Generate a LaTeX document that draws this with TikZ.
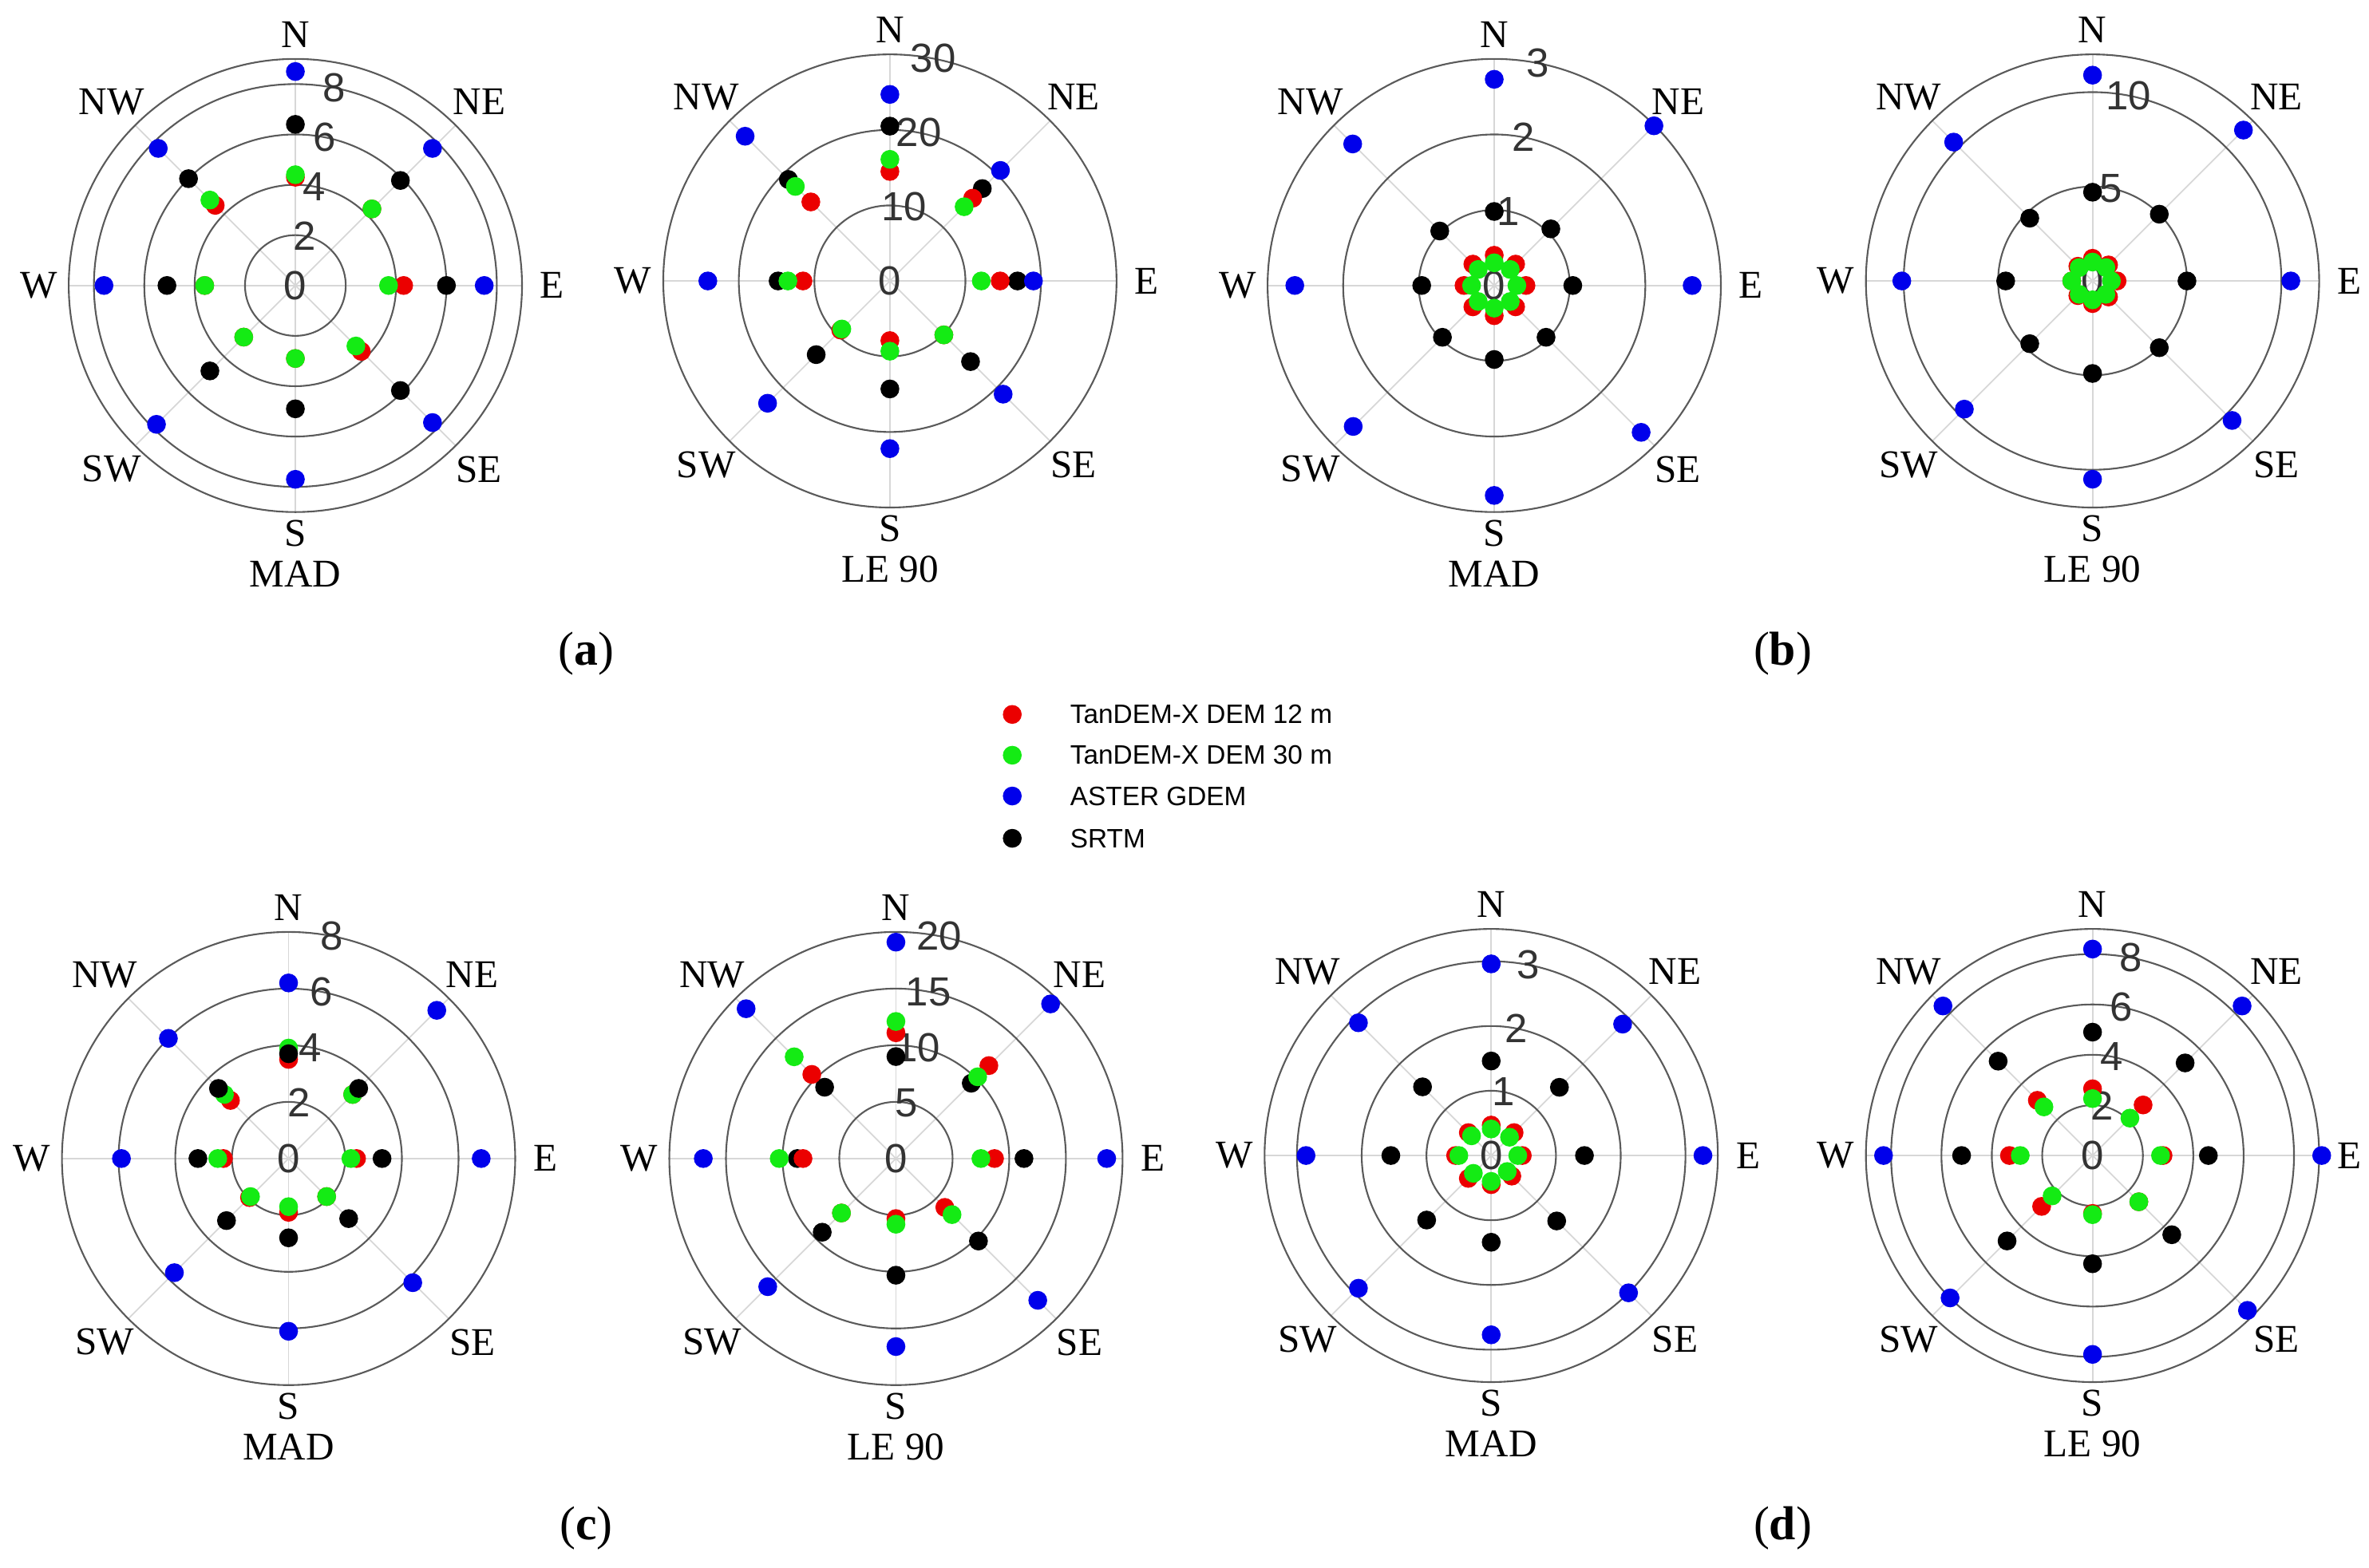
\documentclass[tikz,border=0pt]{standalone}
\usepackage{fontspec}
\setmainfont{Liberation Serif}
\newfontfamily\sansf{Liberation Sans}
\definecolor{cR}{RGB}{235,0,0}
\definecolor{cG}{RGB}{20,235,20}
\definecolor{cB}{RGB}{0,0,235}
\definecolor{cK}{RGB}{0,0,0}
\definecolor{grid}{RGB}{215,215,215}
\definecolor{ring}{RGB}{90,90,90}
\newcommand\ppolar[6]{% cx, cy, unit, rings, labels, subtitle
  \begin{scope}[shift={(#1,-#2)},x=#3*0.018929cm,y=#3*0.018929cm]
    \def\outer{150/#3}
    \foreach \a in {0,45,...,315} \draw[grid,line width=0.5pt] (0,0) -- (\a:\outer);
    \foreach \r in {#4} \draw[ring,line width=0.6pt] (0,0) circle[radius=\r];
    \node[val] at (0,0) {0};
    \foreach \l in {#5} \node[val] at (79:\l) {\l};
    \foreach \t/\a/\d in {N/90/166,NE/45/172,E/0/170,SE/-45/172,S/-90/164,SW/-135/172,W/180/170,NW/135/172}
      \node[dir] at (\a:{\d/#3}) {\t};
    \node[dir] at (-90:{191/#3}) {#6};
  \end{scope}}
\newcommand\pdots[5]{% cx, cy, unit, colour, values N..NW
  \begin{scope}[shift={(#1,-#2)},x=#3*0.018929cm,y=#3*0.018929cm]
    \foreach \v [count=\i] in {#5} \fill[#4] ({90-45*(\i-1)}:\v) circle[radius=0.118cm];
  \end{scope}}
\tikzset{val/.style={font=\sansf\fontsize{14.5}{14.5}\selectfont,text=black!80,inner sep=0pt},
  dir/.style={font=\fontsize{14}{14}\selectfont,inner sep=0pt},
  lab/.style={font=\fontsize{17}{17}\selectfont,inner sep=0pt},
  leg/.style={font=\sansf\fontsize{9.5}{9.5}\selectfont,anchor=west,inner sep=0pt}}
\begin{document}
\begin{tikzpicture}[x=0.018929cm,y=0.018929cm]
\useasboundingbox (0,0) rectangle (1568,-1038);
% ---- (a) MAD
\ppolar{195.5}{189}{16.667}{2,4,6,8,9}{2,4,6,8}{MAD}
\pdots{195.5}{189}{16.667}{cK}{6.4,5.9,6.0,5.9,4.9,4.8,5.1,6.0}
\pdots{195.5}{189}{16.667}{cB}{8.5,7.7,7.5,7.7,7.7,7.8,7.6,7.7}
\pdots{195.5}{189}{16.667}{cR}{4.3,4.3,4.3,3.7,2.9,2.9,3.6,4.5}
\pdots{195.5}{189}{16.667}{cG}{4.4,4.3,3.7,3.4,2.9,2.9,3.6,4.8}
% ---- (a) LE90
\ppolar{589}{186}{5}{10,20,30}{10,20,30}{LE 90}
\pdots{589}{186}{5}{cK}{20.5,17.3,16.9,15.1,14.3,13.8,14.8,19.0}
\pdots{589}{186}{5}{cB}{24.7,20.7,19.0,21.2,22.2,22.9,24.1,27.1}
\pdots{589}{186}{5}{cR}{14.5,15.5,14.6,10.1,7.9,9.2,11.5,14.8}
\pdots{589}{186}{5}{cG}{16.1,13.9,12.1,10.1,9.3,9.0,13.5,17.7}
% ---- (b) MAD
\ppolar{989}{189}{50}{1,2,3}{1,2,3}{MAD}
\pdots{989}{189}{50}{cK}{0.98,1.06,1.04,0.97,0.98,0.97,0.96,1.02}
\pdots{989}{189}{50}{cB}{2.73,2.99,2.62,2.75,2.78,2.64,2.64,2.65}
\pdots{989}{189}{50}{cR}{0.4,0.4,0.42,0.4,0.4,0.4,0.4,0.4}
\pdots{989}{189}{50}{cG}{0.3,0.3,0.3,0.3,0.3,0.3,0.3,0.3}
% ---- (b) LE90
\ppolar{1385}{186}{12.5}{5,10,12}{5,10}{LE 90}
\pdots{1385}{186}{12.5}{cK}{4.7,5.0,5.0,5.0,4.9,4.7,4.6,4.7}
\pdots{1385}{186}{12.5}{cB}{10.9,11.3,10.5,10.45,10.5,9.6,10.1,10.4}
\pdots{1385}{186}{12.5}{cR}{1.2,1.2,1.3,1.2,1.2,1.1,1.1,1.1}
\pdots{1385}{186}{12.5}{cG}{1.0,1.0,1.0,1.0,1.0,1.0,1.1,1.0}
% ---- (c) MAD
\ppolar{191}{767}{18.75}{2,4,6,8}{2,4,6,8}{MAD}
\pdots{191}{767}{18.75}{cB}{6.2,7.4,6.8,6.2,6.1,5.7,5.9,6.0}
\pdots{191}{767}{18.75}{cR}{3.5,3.2,2.4,1.9,1.9,1.95,2.3,2.9}
\pdots{191}{767}{18.75}{cG}{3.9,3.2,2.2,1.9,1.7,1.9,2.5,3.2}
\pdots{191}{767}{18.75}{cK}{3.7,3.5,3.3,3.0,2.8,3.1,3.2,3.5}
% ---- (c) LE90
\ppolar{593}{767}{7.5}{5,10,15,20}{5,10,15,20}{LE 90}
\pdots{593}{767}{7.5}{cK}{9.0,9.4,11.3,10.3,10.3,9.2,8.7,8.9}
\pdots{593}{767}{7.5}{cB}{19.1,19.3,18.6,17.7,16.6,16.0,17.0,18.7}
\pdots{593}{767}{7.5}{cR}{11.1,11.6,8.7,6.1,5.3,6.8,8.2,10.5}
\pdots{593}{767}{7.5}{cG}{12.1,10.2,7.5,7.0,5.8,6.8,10.3,12.7}
% ---- (d) MAD
\ppolar{987}{765}{42.857}{1,2,3,3.5}{1,2,3}{MAD}
\pdots{987}{765}{42.857}{cK}{1.46,1.49,1.44,1.43,1.34,1.41,1.55,1.5}
\pdots{987}{765}{42.857}{cB}{2.96,2.87,3.27,3.0,2.77,2.9,2.86,2.9}
\pdots{987}{765}{42.857}{cR}{0.47,0.5,0.48,0.45,0.45,0.5,0.55,0.5}
\pdots{987}{765}{42.857}{cG}{0.41,0.4,0.41,0.35,0.4,0.39,0.5,0.43}
% ---- (d) LE90
\ppolar{1385}{765}{16.667}{2,4,6,8,9}{2,4,6,8}{LE 90}
\pdots{1385}{765}{16.667}{cK}{4.9,5.2,4.6,4.45,4.3,4.8,5.2,5.3}
\pdots{1385}{765}{16.667}{cB}{8.2,8.4,9.1,8.7,7.9,8.0,8.3,8.4}
\pdots{1385}{765}{16.667}{cR}{2.65,2.84,2.8,2.6,2.3,2.86,3.3,3.1}
\pdots{1385}{765}{16.667}{cG}{2.26,2.1,2.7,2.6,2.35,2.27,2.87,2.73}
% ---- panel labels
\node[lab] (pa) at (388,-433) {(\textbf{a})};
\node[lab] (pb) at (1180,-433) {(\textbf{b})};
\node[lab] (pc) at (388,-1012) {(\textbf{c})};
\node[lab] (pd) at (1180,-1012) {(\textbf{d})};
% ---- legend
\fill[cR] (670,-473) circle[radius=0.118cm];
\fill[cG] (670,-500) circle[radius=0.118cm];
\fill[cB] (670,-527) circle[radius=0.118cm];
\fill[cK] (670,-555) circle[radius=0.118cm];
\node[leg] (l1) at (708,-473) {TanDEM-X DEM 12 m};
\node[leg] (l2) at (708,-500) {TanDEM-X DEM 30 m};
\node[leg] (l3) at (708,-527) {ASTER GDEM};
\node[leg] (l4) at (708,-555) {SRTM};
\end{tikzpicture}
\end{document}
